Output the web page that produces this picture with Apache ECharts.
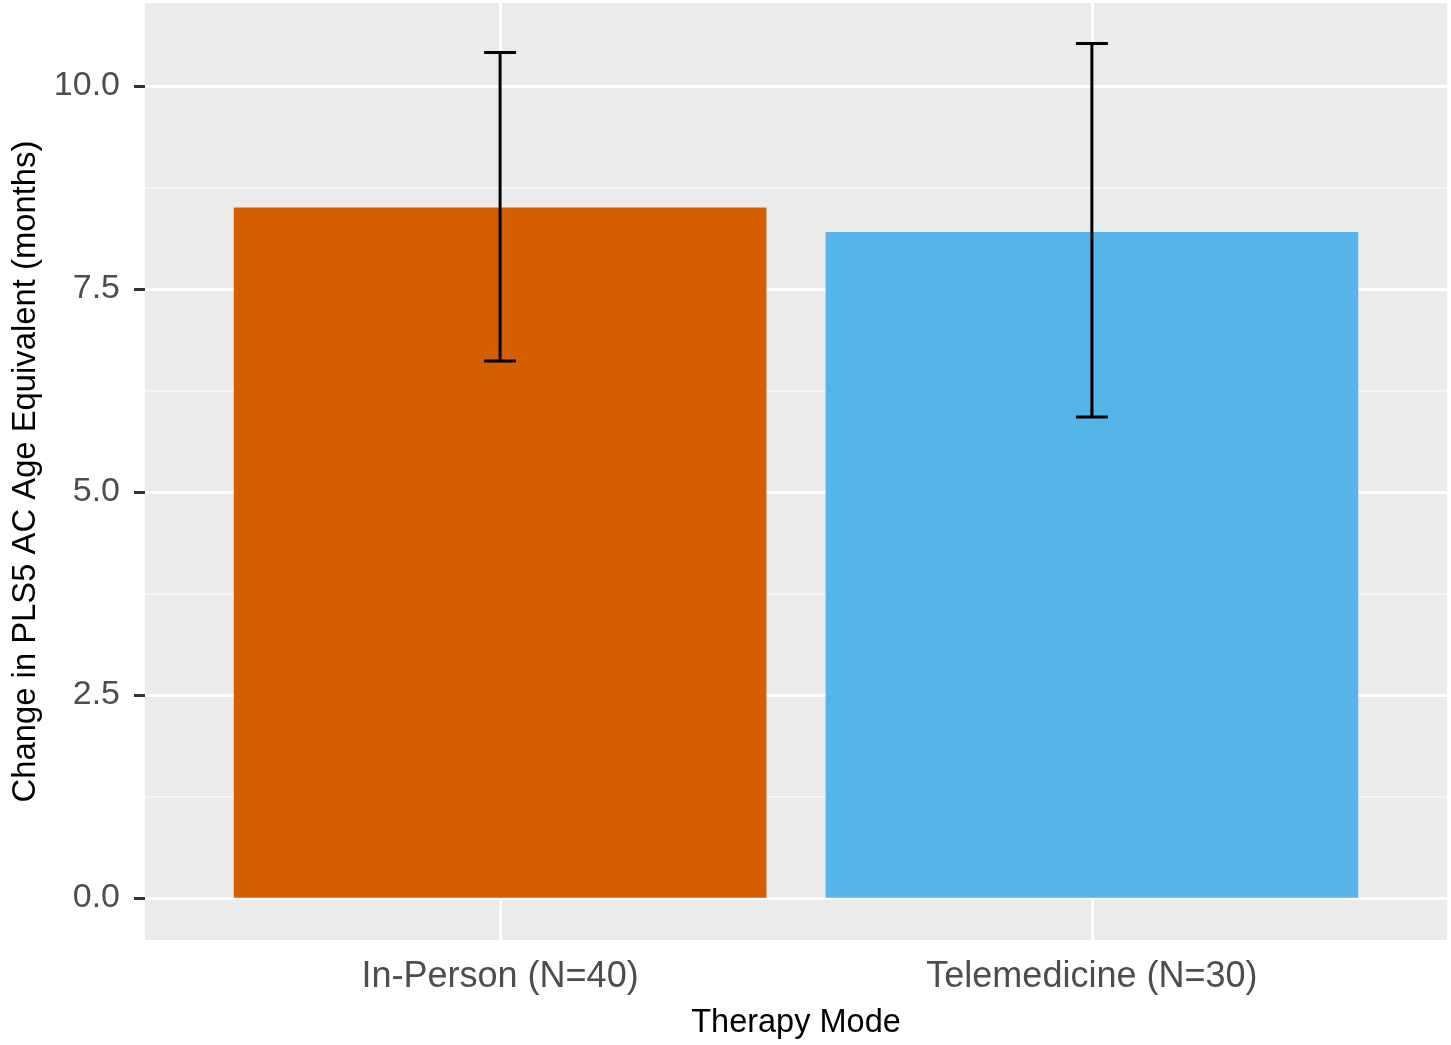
<!DOCTYPE html>
<html><head><meta charset="utf-8">
<script src="https://cdn.jsdelivr.net/npm/echarts@6/dist/echarts.min.js"></script>
<style>html,body{margin:0;padding:0;background:#fff}#c{width:1451px;height:1045px}</style>
</head><body><div id="c"></div>
<script>
const categories = ['In-Person (N=40)', 'Telemedicine (N=30)'];
const xPos = [1, 2];
const means = [8.50, 8.20];
const errLow = [6.61, 5.92];
const errHigh = [10.41, 10.52];
const barColors = ['#D55E00', '#56B4E9'];
const yTicks = [0, 2.5, 5, 7.5, 10];
const yMinor = [1.25, 3.75, 6.25, 8.75];

const chart = echarts.init(document.getElementById('c'), null, {renderer: 'canvas'});

const gridLines = []
  .concat(yMinor.map(v => ({yAxis: v, lineStyle: {color: '#F5F5F5', width: 2, type: 'solid'}})))
  .concat(yTicks.map(v => ({yAxis: v, lineStyle: {color: '#FFFFFF', width: 3, type: 'solid'}})))
  .concat(xPos.map(v => ({xAxis: v, lineStyle: {color: '#FFFFFF', width: 3, type: 'solid'}})));

const option = {
  animation: false,
  backgroundColor: '#FFFFFF',
  grid: {left: 145, right: 4, top: 3, bottom: 95, show: true, backgroundColor: '#EBEBEB', borderWidth: 0},
  xAxis: {
    type: 'value', min: 0.4, max: 2.6,
    axisLine: {show: false},
    splitLine: {show: false},
    axisTick: {show: true, customValues: xPos, length: 11, lineStyle: {color: '#333333', width: 3}},
    axisLabel: {customValues: xPos, formatter: v => categories[Math.round(v) - 1], fontSize: 36,
      color: '#4D4D4D', margin: 19, fontFamily: 'Liberation Sans, Arial, sans-serif'},
    name: 'Therapy Mode', nameLocation: 'middle', nameGap: 67,
    nameTextStyle: {fontSize: 32.5, color: '#000', fontFamily: 'Liberation Sans, Arial, sans-serif'}
  },
  yAxis: {
    type: 'value', min: -0.52, max: 11.02,
    axisLine: {show: false},
    splitLine: {show: false},
    axisTick: {show: true, customValues: yTicks, length: 11, lineStyle: {color: '#333333', width: 3}},
    axisLabel: {customValues: yTicks, formatter: v => Number(v).toFixed(1), fontSize: 34,
      color: '#4D4D4D', margin: 25, fontFamily: 'Liberation Sans, Arial, sans-serif'},
    name: 'Change in PLS5 AC Age Equivalent (months)', nameLocation: 'middle', nameGap: 103,
    nameTextStyle: {fontSize: 32.8, color: '#000', fontFamily: 'Liberation Sans, Arial, sans-serif'}
  },
  series: [
    {
      type: 'bar',
      z: 2,
      barWidth: '90%',
      data: xPos.map((x, i) => ({value: [x, means[i]], itemStyle: {color: barColors[i]}})),
      markLine: {
        silent: true, z: 1, symbol: ['none', 'none'], label: {show: false},
        emphasis: {disabled: true}, animation: false,
        data: gridLines
      }
    },
    {
      type: 'custom',
      z: 3,
      data: xPos.map((x, i) => [x, errLow[i], errHigh[i]]),
      encode: {x: 0, y: [1, 2]},
      renderItem: function (params, api) {
        const x = api.value(0);
        const top = api.coord([x, api.value(2)]);
        const bot = api.coord([x, api.value(1)]);
        const hw = api.size([0.054, 0])[0] / 2;
        const st = {stroke: '#000000', lineWidth: 3, fill: null};
        return {
          type: 'group',
          children: [
            {type: 'line', shape: {x1: top[0], y1: top[1], x2: bot[0], y2: bot[1]}, style: st},
            {type: 'line', shape: {x1: top[0] - hw, y1: top[1], x2: top[0] + hw, y2: top[1]}, style: st},
            {type: 'line', shape: {x1: bot[0] - hw, y1: bot[1], x2: bot[0] + hw, y2: bot[1]}, style: st}
          ]
        };
      }
    }
  ]
};
chart.setOption(option);
</script>
</body></html>
